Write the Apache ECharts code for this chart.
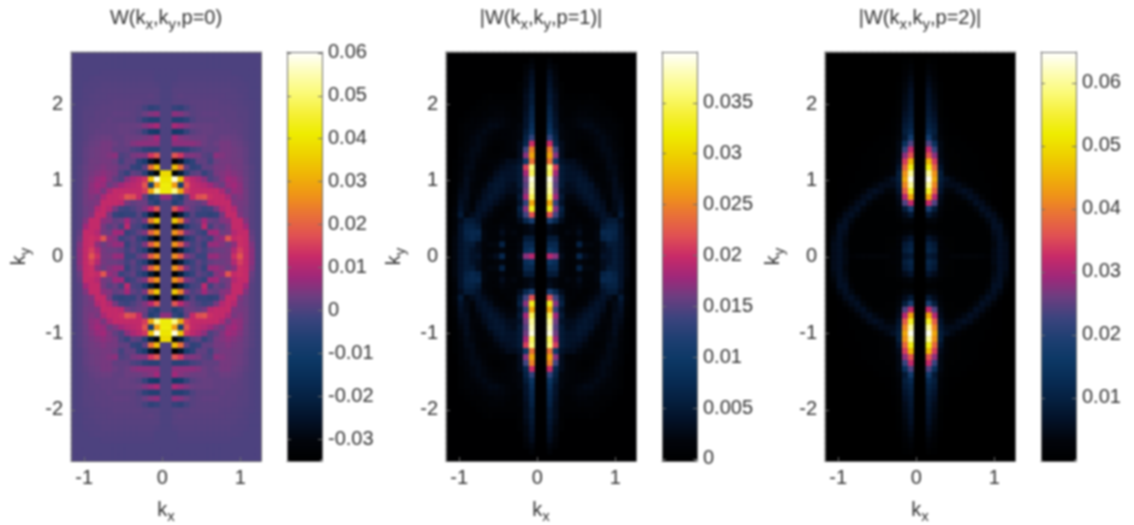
<!DOCTYPE html>
<html><head><meta charset="utf-8">
<script src="https://cdn.jsdelivr.net/npm/echarts@6/dist/echarts.min.js"></script>
<style>html,body{margin:0;padding:0;background:#fff}#c{width:1134px;height:525px;filter:blur(0.8px)}</style>
</head><body><div id="c"></div>
<script>
// Values are in thousandths. Each list: rows from the top edge down to the middle row (35 rows),
// columns from the centre outwards (16 cols). The picture is mirror-symmetric about both axes.
const p0Quarter = [
[0,0,0,0,0,0,0,0,0,0,0,0,0,0,0,0],
[0,0,0,0,0,0,0,0,0,0,0,0,0,0,0,0],
[0,0,0,0,0,0,0,0,0,0,0,0,0,0,0,0],
[0,0,.3,.3,.3,.3,.3,.3,.3,.3,.3,0,0,0,0,0],
[0,0,.5,.5,.5,.5,.5,.5,.5,.5,.5,.5,.3,0,0,0],
[0,.5,.8,.8,.8,.8,.8,.8,.8,.8,.8,.5,.5,.3,0,0],
[0,1,1,1,1,1,1,1,1,1,1,.8,.5,.5,0,0],
[0,1,1.5,1.2,1.2,1.2,1.2,1.2,1.2,1.2,1,1,.8,.5,0,0],
[0,1,1,1.2,1.5,1.5,1.5,1.5,1.5,1.2,1.2,1,.8,.5,.3,0],
[0,-3,-4,-1,1,1.5,1.5,1.5,1.5,1.5,1.5,1.2,1,.8,.3,0],
[0,6,5,3,1,1.5,2,2,2,1.5,1.5,1.5,1,1,.3,0],
[0,-6,-6,-4,0,1.5,1.5,1.5,1.5,2,1.5,1.5,1.2,1,.3,0],
[0,9,7,5,3,2.5,2.5,2.5,2,2,2,1.5,1.5,1,.3,0],
[0,-10,-9,-3,1,2,2.5,2.5,2,2,2,2,1.5,1,.3,0],
[0,8,5,4,3,3,3,2,2,3,3,2.5,2,1,.3,0],
[0,6,6,6,6,5,3,2,3,4,4,3,2.5,1.5,.5,0],
[0,-5,-5,-4,-1,0,2,2,2,4,4,3.5,3,2,.5,0],
[0,18,14,5,5,4,1,0,6,5,4,3.5,3,2,.5,0],
[0,-33,-24,-8,-4,2,2,-1,3,4,4,3.5,3.5,2,.5,0],
[0,33,22,2,-4,-3,2,2,4,4,5,4,3.5,2.5,1,0],
[38,-32,-22,-5,1,2,-3,0,4,5,6,5,4,2.5,1,0],
[40,58,34,14,11,9,6,0,2,5,8,7,5,3,1,0],
[42,28,-8,18,12,11,10,8,5,3,7,8,6,3,1,0],
[42,52,30,15,12,12,12,12,12,9,4,7,6,3.5,1,0],
[6,-3,-6,2,12,17,18,13,12,12,9,4,5,3.5,1,0],
[0,-6,-3,3,3,2,4,11,12,12,12,5,4,3.5,1,0],
[0,18,11,5,2,0,-2,-1,4,10,12,10,4,3,1,0],
[0,-34,-22,-6,1,-3,-3,-4,-3,4,12,12,5,3,1,0],
[0,35,24,5,0,2,8,3,2,5,6,12,12,5,1,0],
[0,-33,-22,-7,-1,0,11,-1,3,1,4,12,12,8,1,0],
[0,27,20,5,2,-1,-3,8,8,3,4,10,12,12,2,0],
[0,-33,-22,-7,-3,2,0,-2,5,7,18,12,13,12,3,0],
[0,27,19,5,-1,1,-3,7,7,5,3,6,13,12,5,0],
[0,-34,-22,-6,-2,2,-1,2,3,3,4,10,15,12,6,0],
[0,26,19,5,2,-2,-2,7,7,4,4,13,18,12,6,0]
];
const p1Quarter = [
[0,0,0,0,0,0,0,0,0,0,0,0,0,0,0,0],
[0,1,0,0,0,0,0,0,0,0,0,0,0,0,0,0],
[0,2,1,0,0,0,0,0,0,0,0,0,0,0,0,0],
[0,3,1.5,0,0,0,0,0,0,0,0,0,0,0,0,0],
[0,3.5,2,0,0,0,0,0,0,0,0,0,0,0,0,0],
[0,4,2,.5,0,0,0,0,0,0,0,0,0,0,0,0],
[0,4.5,2.5,.5,0,0,0,0,0,0,0,0,0,0,0,0],
[0,5,3,.5,.3,.3,.3,.3,.5,.3,0,0,0,0,0,0],
[0,5,3,.5,.5,.5,.5,.5,.5,.5,.3,0,0,0,0,0],
[0,6,3,1,.5,.5,1,1,1,.5,.5,.3,0,0,0,0],
[0,6.5,3.5,1,.5,1,1.5,1.5,1,1,.5,.5,.3,0,0,0],
[0,7,4,1,1,1.5,2,2,2,1.5,1,1,.5,.3,0,0],
[0,8,4,2,1,1.5,2,2.5,2.5,2,1.5,1,1,.5,0,0],
[0,9,5,2,1.5,1,1,1.5,2,2.5,2,1.5,1,.5,0,0],
[0,13,6,2,1.5,1,1,1,1.5,2,2.5,2,1,.5,0,0],
[0,20,7,3,1.5,1,.5,.5,1,2,2.5,2,1.5,.5,0,0],
[0,25,14,3,1.5,1,.5,.3,.5,1.5,2.5,2.5,1.5,1,0,0],
[0,27,17,3,1,1,1,.5,.5,1,2,2.5,2,1,0,0],
[0,24,10,4,3,3,2,1,1,1,1.5,2.5,2,1,.3,0],
[0,36,21,5,4,3.5,3,2,1,.5,1,2.5,2.5,1,.3,0],
[0,35,18,5,4,4,4,3,1.5,1,1,2,2.5,1.5,.3,0],
[0,39,16,5,4,4,4.5,4,2.5,1,1,2,3,1.5,.3,0],
[0,38,15,5,3,3.5,4.5,4.5,4,2,1,1.5,3,2,.3,0],
[0,37,16,4,3,3,4,4.5,4,3,1.5,1.5,3,2.5,.3,0],
[0,35,18,5,2,2,3,4,4.5,3.5,2,1,3,3,.5,0],
[0,27,13,4,1.5,1.5,2,3,4,4,3,1,2.5,3.5,.5,0],
[0,33,17,6,1.5,.5,1,1.5,3,4,3.5,1.5,2.5,4,1,0],
[0,22,14,5,1.5,1,.5,1,2,3,4,3,2,5,1.5,0],
[0,11,7,3,1,1,1,.5,1,2,4,5,5,3,1,0],
[0,3,2,1,1,1.5,2,1,1,1.5,5,6,6,4,1,0],
[0,2.5,2,1,2,1.5,3,1,1,2,7,7,6.5,4,1.5,0],
[0,5,5,1.5,1,1,2,1,1,2,6,7,6,4,2,0],
[0,7,7,2,1,1,6,2,2,1.5,3,5,5,4,2,0],
[0,9,8,2,1,1,2,1.5,1,1.5,3,4,5,4,2,0],
[0,19,17,3,1,1.5,7,3,2,1.5,4,4,5,4,2,0]
];
const p2Quarter = [
[0,0,0,0,0,0,0,0,0,0,0,0,0,0,0,0],
[0,1,.5,0,0,0,0,0,0,0,0,0,0,0,0,0],
[0,2,1,0,0,0,0,0,0,0,0,0,0,0,0,0],
[0,3,1.5,0,0,0,0,0,0,0,0,0,0,0,0,0],
[0,4,2,.3,0,0,0,0,0,0,0,0,0,0,0,0],
[0,5,3,.5,0,0,0,0,0,0,0,0,0,0,0,0],
[0,6,3.5,.5,0,0,0,0,0,0,0,0,0,0,0,0],
[0,6.5,4,.5,0,0,0,0,0,0,0,0,0,0,0,0],
[0,7,4.5,1,0,0,0,0,0,0,0,0,0,0,0,0],
[0,7.5,5,1,.3,0,0,0,0,0,0,0,0,0,0,0],
[0,8,6,1,.3,0,0,0,0,0,0,0,0,0,0,0],
[0,9,7,1.5,.5,0,0,0,0,0,0,0,0,0,0,0],
[0,10,8,2,.5,.3,0,0,0,0,0,0,0,0,0,0],
[0,12,9,2,.5,.3,.3,0,0,0,0,0,0,0,0,0],
[0,17,8,3,1,.5,.5,.3,0,0,0,0,0,0,0,0],
[0,24,14,4,1,.5,.5,.5,.3,.3,0,0,0,0,0,0],
[0,32,22,4,1,1,.5,.5,.5,.3,.3,0,0,0,0,0],
[0,36,28,4,1.5,1,1,.5,.5,.5,.3,.3,0,0,0,0],
[0,46,34,5,2,1,1,.5,.5,.5,.3,.3,0,0,0,0],
[0,53,38,7,2,1,1,.5,.5,.5,.3,.3,.3,0,0,0],
[0,60,42,9,2.5,1.5,1,.5,.5,.5,.5,.3,.3,0,0,0],
[0,64,44,9,6,4,2,1,.5,.5,.5,.3,.3,.3,0,0],
[0,60,41,8,5,5,5,3.5,1.5,.5,.5,.5,.3,.3,0,0],
[0,54,37,7,3,3,5,6,5,2.5,.5,.5,.3,.3,0,0],
[0,44,31,5,1.5,1,2,4,6,5,2.5,.5,.3,.3,0,0],
[0,32,24,4,1,1,1,1,3.5,6,5,2.5,.3,.3,0,0],
[0,18,9,3,1,1,.5,.5,1,3.5,6,5,2.5,.3,0,0],
[0,8,5,2,.5,.5,.5,.5,.5,1,4,6,5,1.5,0,0],
[0,3,3,1,.5,.5,.5,.5,.5,.5,1,4,6,4,.5,0],
[0,1,1,.5,.5,.5,.5,.5,.5,.5,.5,2,6,6,1.5,0],
[0,3,2,1,.5,.5,.5,.5,.5,.5,.5,1,5,6,3,0],
[0,7,5,2,1,1,.5,.5,.5,.5,.5,.5,4,6,4,0],
[0,10,8,2,1,1,.5,.5,.5,.5,.5,.5,3.5,6,5,0],
[0,11,9,2,1.5,1,.5,.5,.5,.5,.5,.5,4,6,5,0],
[0,8,7,2,1.5,2.5,2.5,2.5,2.5,2.5,2,1.5,4,6,5,0]
];
const xTicks = [-1,0,1];
const yTicks = [-2,-1,0,1,2];
const cb0Ticks = [-0.03,-0.02,-0.01,0,0.01,0.02,0.03,0.04,0.05,0.06];
const cb1Ticks = [0,0.005,0.01,0.015,0.02,0.025,0.03,0.035];
const cb2Ticks = [0.01,0.02,0.03,0.04,0.05,0.06];
const cmap = ['#000000','#02050b','#031127','#052040','#082c55','#0d3966','#1f3f72','#3c447e','#6b3e80','#a0287a','#c82a68','#e05054','#e97038','#ef9418','#efb406','#eed200','#eeec00','#f6f038','#fbfa78','#fdfdb8','#ffffff'];

function expand(q){ // restores the full grid from its mirrored quarter
  const out=[];
  for(let r=0;r<69;r++){
    const row=q[r<=34?r:68-r];
    for(let i=0;i<32;i++){
      const c=i<16?15-i:i-16;
      out.push([i,68-r,row[c]/1000]);
    }
  }
  return out;
}
const idx=n=>Array.from({length:n},(_,i)=>String(i));
const FONT='"Liberation Sans", Arial, sans-serif', TXT='#333333', LINE='#6f6f6f';
const rich={b:{fontSize:20,fontWeight:'normal',color:TXT,fontFamily:FONT},s:{fontSize:15,fontWeight:'normal',color:TXT,fontFamily:FONT,padding:[13,0,0,0]}};
const panels=[
 {left:71, bg:'#41457f', title:'{b|W(k}{s|x}{b|,k}{s|y}{b|,p=0)}', data:expand(p0Quarter), cb:[287,-0.0351,0.0602,cb0Ticks]},
 {left:446,bg:'#000000', title:'{b||W(k}{s|x}{b|,k}{s|y}{b|,p=1)|}',data:expand(p1Quarter), cb:[662,-0.0002,0.04,cb1Ticks]},
 {left:825,bg:'#000000', title:'{b||W(k}{s|x}{b|,k}{s|y}{b|,p=2)|}',data:expand(p2Quarter), cb:[1041,0,0.0649,cb2Ticks]}
];
const W=190,H=409,T=52;
const grid=[],xAxis=[],yAxis=[],series=[],visualMap=[],title=[];
const lab={fontFamily:FONT,fontSize:20,color:TXT};
const line={show:true,onZero:false,lineStyle:{color:LINE,width:1}};
panels.forEach((p,i)=>{
  const g=i*2;
  grid.push({left:p.left,top:T,width:W,height:H,show:true,backgroundColor:p.bg,borderWidth:0,outerBoundsMode:'none'});
  grid.push({left:p.cb[0],top:T,width:35,height:H,outerBoundsMode:'none'});
  title.push({text:p.title,left:p.left+W/2-5,top:-1,textAlign:'center',textStyle:{fontWeight:'normal',rich}});
  const xBase=xAxis.length,yBase=yAxis.length;
  // heatmap category axes (top & right frame lines)
  xAxis.push({type:'category',gridIndex:g,data:idx(32),position:'top',axisLabel:{show:false},axisTick:{show:false},axisLine:line,splitLine:{show:false},z:10});
  yAxis.push({type:'category',gridIndex:g,data:idx(69),position:'right',axisLabel:{show:false},axisTick:{show:false},axisLine:line,splitLine:{show:false},z:10});
  // numeric axes
  xAxis.push({type:'value',gridIndex:g,min:-1.17,max:1.265,position:'bottom',axisLine:line,splitLine:{show:false},z:10,
    axisTick:{show:true,inside:true,length:4,customValues:xTicks,lineStyle:{color:LINE}},
    axisLabel:{...lab,margin:7,customValues:xTicks},
    name:'{b|k}{s|x}',nameLocation:'middle',nameGap:35,nameTextStyle:{rich}});
  yAxis.push({type:'value',gridIndex:g,min:-2.67,max:2.68,position:'left',axisLine:line,splitLine:{show:false},z:10,
    axisTick:{show:true,inside:true,length:4,customValues:yTicks,lineStyle:{color:LINE}},
    axisLabel:{...lab,margin:8,customValues:yTicks},
    name:'{b|k}{s|y}',nameLocation:'middle',nameGap:38,nameRotate:90,nameTextStyle:{rich}});
  series.push({type:'heatmap',xAxisIndex:xBase,yAxisIndex:yBase,data:p.data,progressive:0,silent:true,emphasis:{disabled:true}});
  visualMap.push({type:'continuous',seriesIndex:i,dimension:2,min:p.cb[1],max:p.cb[2],left:p.cb[0],top:T,itemWidth:35,itemHeight:H,padding:0,
    calculable:false,hoverLink:false,text:null,inRange:{color:cmap},textStyle:{color:'transparent'},showLabel:false});
  // colour bar frame and ticks
  xAxis.push({type:'value',gridIndex:g+1,min:0,max:1,position:'bottom',axisLine:line,axisLabel:{show:false},axisTick:{show:false},splitLine:{show:false},z:10});
  xAxis.push({type:'value',gridIndex:g+1,min:0,max:1,position:'top',axisLine:line,axisLabel:{show:false},axisTick:{show:false},splitLine:{show:false},z:10});
  yAxis.push({type:'value',gridIndex:g+1,min:p.cb[1],max:p.cb[2],position:'right',axisLine:line,splitLine:{show:false},z:10,
    axisTick:{show:true,inside:true,length:4,customValues:p.cb[3],lineStyle:{color:LINE}},
    axisLabel:{...lab,margin:6,customValues:p.cb[3],formatter:v=>String(v)}});
  yAxis.push({type:'value',gridIndex:g+1,min:p.cb[1],max:p.cb[2],position:'left',axisLine:line,splitLine:{show:false},z:10,
    axisTick:{show:true,inside:true,length:4,customValues:p.cb[3],lineStyle:{color:LINE}},
    axisLabel:{show:false}});
});
const chart=echarts.init(document.getElementById('c'),null,{renderer:'canvas'});
chart.setOption({animation:false,backgroundColor:'#fff',title,grid,xAxis,yAxis,series,visualMap,tooltip:{show:false}});
</script></body></html>
